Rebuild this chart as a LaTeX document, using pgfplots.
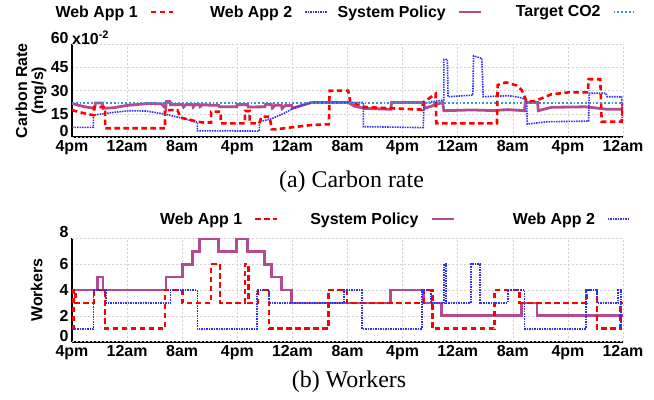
\documentclass[border=0pt]{standalone}
\usepackage{pgfplots}
\pgfplotsset{compat=1.18}
\usepackage{fontspec}
\setmainfont{Liberation Serif}
\newfontfamily\hv{Liberation Sans}
\definecolor{cRed}{RGB}{255,0,0}
\definecolor{cBlue}{RGB}{45,45,255}
\definecolor{cPurp}{RGB}{180,75,145}
\definecolor{cTarg}{RGB}{50,150,210}
\newcommand{\lf}{\hv\bfseries\fontsize{16}{16}\selectfont}
\pgfplotsset{
  common/.style={
    scale only axis, width=551bp, anchor=south west,
    xmin=0, xmax=80, xtick={0,8,...,80},
    xticklabels={4pm,12am,8am,4pm,12am,8am,4pm,12am,8am,4pm,12am},
    axis x line*=bottom, axis y line*=left,
    axis line style={line width=1.8bp, black},
    major tick length=0pt,
    grid=major,
    major grid style={gray!35, line width=0.6bp, dash pattern=on 2bp off 2bp},
    tick label style={font=\lf},
    /pgf/number format/assume math mode=true,
    extra y tick style={grid=major, yticklabel style={yshift=6bp}},
    legend plot pos=right,
    legend image code/.code={\draw[##1] (0bp,0bp) -- (22bp,0bp);},
    legend style={draw=none, fill=none, font=\lf, inner xsep=0pt, anchor=east,
      /tikz/every odd column/.append style={column sep=10bp},
      /tikz/every even column/.append style={column sep=6bp}},
    ylabel style={font=\lf, align=center, anchor=center},
  },
  redl/.style={color=cRed, line width=2.6bp, dash pattern=on 5.5bp off 3.5bp},
  bluel/.style={color=cBlue, line width=1.6bp, dash pattern=on 1.5bp off 1bp},
  purpl/.style={color=cPurp, line width=2.8bp},
  targl/.style={color=cTarg, line width=2.2bp, dash pattern=on 1.8bp off 2bp},
}
\begin{document}
\begin{tikzpicture}
\path[use as bounding box] (0bp,0bp) rectangle (654bp,400bp);
% ---------------- (a) Carbon rate ----------------
\begin{axis}[common, at={(72bp,262.7bp)}, height=93.3bp,
  ymin=0, ymax=60, ytick={15,30,45}, extra y ticks={0,60},
  ylabel={Carbon Rate\\(mg/s)},
  ylabel style={at={(axis description cs:-0.0744,0.5)}},
  legend columns=4,
  legend style={at={(1.0254,1.343)}}]
\addlegendimage{redl}\addlegendentry{\makebox[110bp][r]{Web App 1}}
\addlegendimage{bluel}\addlegendentry{\makebox[110bp][r]{Web App 2}}
\addlegendimage{purpl}\addlegendentry{\makebox[110bp][r]{System Policy}}
\addlegendimage{targl}\addlegendentry{\makebox[110bp][r]{Target CO2}}
% System Policy
\addplot[purpl, forget plot] coordinates {(0,21.8)(1,20.5)(2,19.5)(3,18.8)(3.3,18.6)(3.4,22)(4.4,22)(4.5,18.6)(6,19)(8,20.5)(11.2,21.8)(13,21.5)(13.6,18.6)(13.7,23)(14.2,23)(14.3,21)(16,21)(16.2,19.5)(16.5,21)(17.5,21)(17.6,19.5)(17.9,21)(18.5,21)(18.6,19.7)(19,21)(20,20.6)(21.3,20.6)(21.4,19.6)(23.9,19.6)(24,21)(25.5,21)(25.6,19.5)(28,19.6)(28.1,21.3)(29,21)(29.1,18.9)(29.5,20.6)(30.4,20.6)(30.5,18.5)(31,20.5)(31.9,20.5)(32,18.6)(33,20)(34.8,22.4)(40.1,22.4)(41,20)(42.5,18.6)(46.3,18)(46.4,22.4)(51.1,22.4)(51.2,18.6)(52.5,20.5)(53.8,22.5)(54,17.1)(58,17.6)(61,17.2)(63.3,17.8)(65.7,17.1)(65.8,22.4)(67.6,22.4)(67.7,17.1)(69.6,19.3)(74.5,19.6)(76,18.9)(77.7,18)(80,18)};
% Web App 2
\addplot[bluel, forget plot] coordinates {(0,6.4)(3.1,6.4)(3.1,14.3)(4,14.8)(6,16)(8.3,17.1)(10.7,16.9)(12,16)(13.6,14.8)(16.1,12.2)(18,9.8)(18.2,9.8)(18.2,4.2)(27.2,4.0)(27.2,10)(29,12)(30.6,15)(32.1,18.6)(33.8,21.4)(35.2,22.4)(42.3,22.4)(42.3,6.8)(46,6.6)(51,6.2)(51.1,21.8)(52.5,23)(54,24)(54,50.1)(54.5,50.1)(54.6,26.1)(58.2,27.1)(58.3,52.3)(59.5,50.8)(59.7,26.1)(62,26.5)(63.5,26.7)(65,25.7)(66,24)(66.1,8.5)(69,10)(75,10.4)(75.1,28.3)(77.5,28.3)(77.7,26.1)(79.8,26.1)(79.9,12)};
% Web App 1
\addplot[redl, forget plot] coordinates {(0,17.5)(1,16.3)(2,15.2)(3,14.3)(3.2,14.3)(3.2,19.4)(4.8,19.4)(4.8,5.8)(13.5,5.8)(13.5,17.5)(15.3,17.5)(15.8,12.5)(17,11.5)(18,10.2)(19,9.5)(20.2,9.5)(20.2,16.5)(21.6,16.5)(21.6,9)(25.1,9)(25.1,16.9)(25.8,16.9)(25.8,9)(27.2,9)(27.5,13.2)(28.7,13.2)(29.0,5.1)(29.5,5.1)(31.9,6.4)(34.8,7.9)(37.3,8.4)(37.4,30)(40.1,30)(40.4,22.9)(42.5,19.5)(46.5,18.6)(50.8,17.8)(51,22.5)(52.8,28)(52.9,9)(61.7,9)(61.8,33.6)(63,35.3)(64.5,33.4)(65.3,30.4)(65.9,24)(66.3,22.9)(67.2,23.3)(69.6,27.6)(72.1,28.9)(74.9,28.9)(75.0,37.3)(76.7,37.3)(76.9,10)(79.8,10)(80,22)};
% Target CO2
\addplot[targl, forget plot] coordinates {(0,22.3)(80,22.3)};
\end{axis}
\node[anchor=base west, inner sep=0pt, font=\lf] at (72bp,355bp) {x10\raisebox{6bp}{\hv\bfseries\fontsize{11}{11}\selectfont -2}};
% ---------------- (b) Workers ----------------
\begin{axis}[common, at={(72bp,58.3bp)}, height=103.4bp,
  ymin=0, ymax=8, ytick={2,4,6}, extra y ticks={0,8},
  ylabel={Workers},
  ylabel style={at={(axis description cs:-0.064,0.5)}},
  legend columns=3,
  legend style={at={(1.014,1.1867)},
      /tikz/every even column/.append style={column sep=7.7bp}}]
\addlegendimage{redl}\addlegendentry{\makebox[130bp][r]{Web App 1}}
\addlegendimage{purpl}\addlegendentry{\makebox[130bp][r]{System Policy}}
\addlegendimage{bluel}\addlegendentry{\makebox[130bp][r]{Web App 2}}
\addplot[purpl, const plot, forget plot] coordinates {(0,4)(3.7,5)(4.5,4)(13.65,5)(16.1,6)(17.5,7)(18.5,8)(21.3,7)(23.9,8)(25.5,7)(28.0,6)(29.0,5)(30.4,4)(31.9,3)(46.3,4)(51.0,3)(53.6,2)(65.3,3)(67.5,2)(80,2)};
\addplot[redl, const plot, forget plot] coordinates {(0,1)(0.2,4)(0.5,3)(3.2,4)(4.8,1)(13.5,4)(16.0,3)(20.2,6)(21.5,3)(25.1,6)(25.6,3)(27.0,4)(28.6,1)(37.2,4)(39.9,3)(51.1,4)(52.3,1)(61.3,4)(65.0,3)(74.7,4)(76.2,1)(79.6,3)(80,3)};
\addplot[bluel, const plot, forget plot] coordinates {(0,1)(3.1,4)(4.9,3)(14.3,4)(18.2,1)(26.9,4)(28.6,3)(39.5,4)(42.1,1)(50.8,4)(52.1,3)(54.0,6)(54.3,3)(57.9,6)(59.2,3)(63.3,4)(65.7,1)(74.6,4)(76.2,3)(79.3,4)(79.7,1)(80,1)};
\end{axis}
\node[font=\fontsize{24}{25}\selectfont] at (351.5bp,218bp) {(a) Carbon rate};
\node[font=\fontsize{24}{25}\selectfont] at (349bp,18bp) {(b) Workers};
\end{tikzpicture}
\end{document}
